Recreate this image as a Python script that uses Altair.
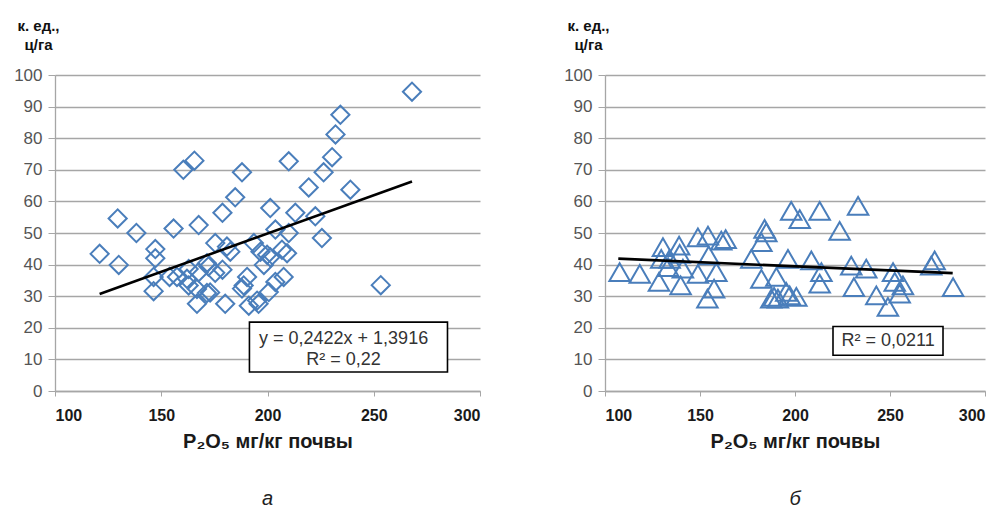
import altair as alt
import pandas as pd

# ---- panel "а": P2O5 vs yield, diamonds ----
a_x = [121, 129.5, 130, 138.3, 147.2, 147.2, 146.4, 146.4, 155.8, 153.9,
       157.4, 160.4, 165.6, 162.9, 162.9, 167.6, 167.6, 166.8, 166.8, 171.5,
       171.5, 175.4, 175.4, 173, 178.8, 178.8, 180.1, 180.9, 182.5, 184.8,
       188, 188.8, 190.4, 191.2, 193.6, 195.1, 196.7, 198.3, 200.6, 201.3,
       201.3, 203.7, 203.7, 206.8, 207.6, 209.2, 210, 210, 213.1, 219.4,
       222.5, 225.6, 226.4, 230.4, 232, 234.3, 239, 253.3, 268,
       162.1, 188, 195.8, 199.8, 172.2]
a_y = [43.4, 54.6, 39.9, 50, 44.9, 42, 36.1, 31.6, 51.4, 36.1,
       36.1, 70, 72.9, 38.6, 33.4, 52.5, 37.6, 27.6, 32.3, 40.4,
       31, 46.8, 37.4, 31.2, 56.4, 38.4, 27.6, 45.7, 44.1, 61.3,
       69.2, 33.4, 36.1, 27, 46.8, 28.6, 44.1, 39.9, 31.3, 57.9,
       42.3, 51.1, 34.5, 44.7, 36.1, 43.6, 50, 72.7, 56.4, 64.4,
       55.3, 48.4, 69.2, 74, 81.2, 87.4, 63.7, 33.5, 94.7,
       35.5, 32.4, 27.6, 43.1, 39.4]
a_slope, a_intercept = 0.2422, 1.3916
a_fit_x = [121, 268]
a_box = {"x1": 191.5, "x2": 284.7, "y1": 6.0, "y2": 21.8}
a_text = ["y = 0,2422x + 1,3916", "R² = 0,22"]
a_text_x = [235.8, 235.8]
a_text_y = [16.5, 9.9]

# ---- panel "б": triangles ----
b_x = [107.7, 118.3, 128.4, 130.5, 129.6, 133.2, 139, 139.3, 139.8, 141,
       134, 148.9, 148.9, 154.2, 154.6, 153.9, 157.4, 158.6, 161.2, 163.5,
       177, 182.3, 182.3, 184, 184.9, 190.2, 187.5, 191, 195.4, 196.3,
       198, 200.7, 202.5, 208.6, 213, 213.9, 213, 223.5, 229.6, 231,
       233.2, 237.5, 242.8, 248.9, 251.6, 252.5, 255.1, 256.8, 273.5, 271.7,
       283.2, 197.2, 189]
b_y = [37.6, 37.1, 34.5, 45.5, 41.8, 39.2, 46, 43.4, 33.4, 38.7,
       41.8, 37.1, 48.6, 49.2, 42.9, 29.2, 32.4, 37.6, 47.6, 48.1,
       41.8, 35.5, 47.1, 51.3, 50.2, 36.1, 29.2, 29.2, 31.4, 41.8,
       57, 29.8, 54.4, 41.3, 57, 37.6, 34, 50.7, 39.7, 32.9,
       58.6, 38.7, 30.3, 26.6, 37.6, 34.5, 30.8, 33.4, 41.3, 39.7,
       32.9, 30.3, 29.8]
b_fit_x = [107, 283]
b_fit_y = [41.9, 37.3]
b_box = {"x1": 220, "x2": 277.9, "y1": 11.3, "y2": 20.4}
b_text = ["R² = 0,0211"]
b_text_x = [249]
b_text_y = [15.8]

x_ticks = [100, 150, 200, 250, 300]
y_ticks = [0, 10, 20, 30, 40, 50, 60, 70, 80, 90, 100]
x_title = "P₂O₅ мг/кг почвы"
y_title = ["к. ед.,", "ц/га"]

BLUE = "#4a7ebb"
GRID = "#a6a6a6"
FONT = "Liberation Sans"


def panel(px, py, shape, size, fx, fy, box, texts, tx, ty, caption, width, height):
    xenc = alt.X("x:Q",
                 scale=alt.Scale(domain=[100, 300], nice=False, zero=False),
                 axis=alt.Axis(values=x_ticks, grid=False, title=x_title, labelOverlap=False,
                               labelFontSize=16, labelFontWeight="bold", labelColor="#1a1a1a",
                               labelFont=FONT, labelPadding=11, tickSize=5, tickColor=GRID,
                               domainColor=GRID, domainWidth=1.3,
                               titleFont=FONT, titleFontSize=20, titleFontWeight="bold",
                               titleColor="#1a1a1a", titlePadding=8))
    yenc = alt.Y("y:Q",
                 scale=alt.Scale(domain=[0, 100], nice=False),
                 axis=alt.Axis(values=y_ticks, tickCount=11, labelOverlap=False,
                               grid=True, gridColor=GRID, gridWidth=1.3,
                               labelFontSize=17, labelColor="#555555", labelFont=FONT,
                               labelPadding=6, tickSize=7, tickColor=GRID,
                               domainColor=GRID, domainWidth=1.3,
                               title=y_title, titleAngle=0, titleAlign="center",
                               titleBaseline="top", titleX=-17, titleY=-57,
                               titleFont=FONT, titleFontSize=15, titleFontWeight="bold",
                               titleColor="#111111", titleLineHeight=19))
    pts = alt.Chart(pd.DataFrame({"x": px, "y": py})).mark_point(
        shape=shape, filled=False, size=size, strokeWidth=2, color=BLUE, opacity=1
    ).encode(x=xenc, y=yenc)
    line = alt.Chart(pd.DataFrame({"x": fx, "y": fy})).mark_line(
        color="black", strokeWidth=2.6).encode(x="x:Q", y="y:Q")
    rect = alt.Chart(pd.DataFrame([box])).mark_rect(
        fill="white", stroke="black", strokeWidth=1.6).encode(
        x="x1:Q", x2="x2:Q", y="y1:Q", y2="y2:Q")
    txt = alt.Chart(pd.DataFrame({"x": tx, "y": ty, "t": texts})).mark_text(
        font=FONT, fontSize=18, color="#333333").encode(x="x:Q", y="y:Q", text="t:N")
    return alt.layer(pts, line, rect, txt).properties(
        width=width, height=height,
        title=alt.TitleParams(caption, orient="bottom", anchor="middle", font=FONT,
                              fontSize=20, fontStyle="italic", fontWeight="normal",
                              color="#222222", offset=38))


a_fit_y = [a_slope * v + a_intercept for v in a_fit_x]

left = panel(a_x, a_y, "diamond", 330, a_fit_x, a_fit_y, a_box, a_text, a_text_x, a_text_y,
             "а", 425, 316)
right = panel(b_x, b_y, "triangle-up", 420, b_fit_x, b_fit_y, b_box, b_text, b_text_x, b_text_y,
              "б", 380, 316)

chart = alt.hconcat(left, right, spacing=82).properties(
    padding={"left": 13, "top": 18, "right": 5, "bottom": 5},
    background="white"
).configure_view(stroke=None)

chart.save("out.html", embed_options={"renderer": "svg", "actions": False})
